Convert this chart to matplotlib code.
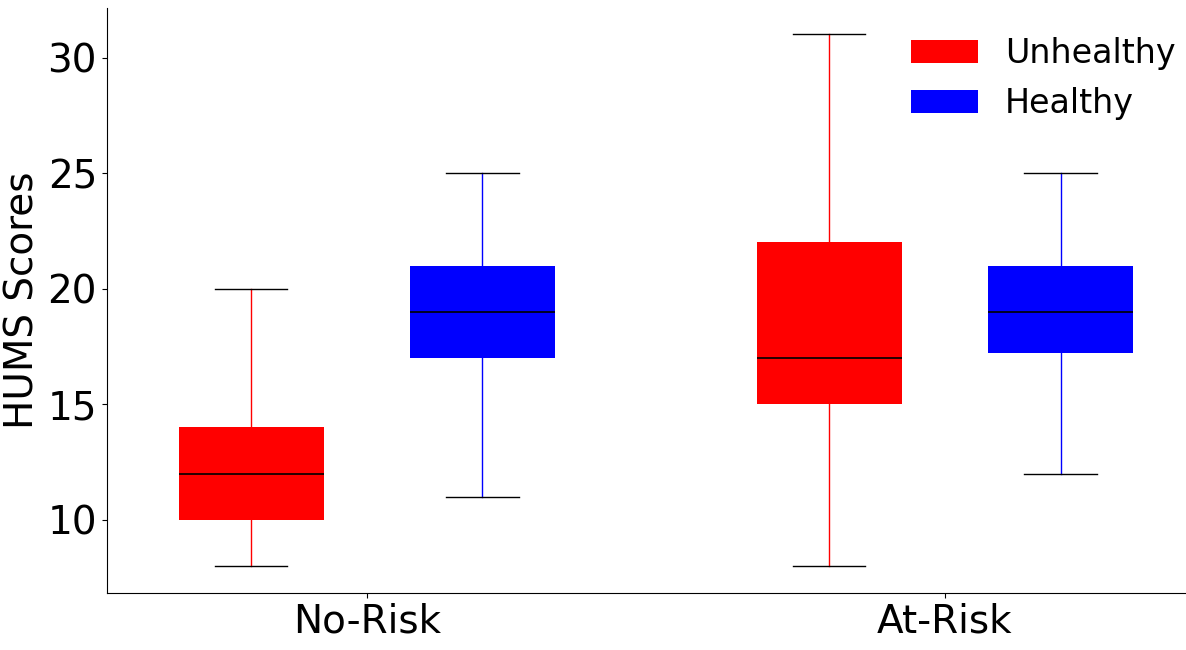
import matplotlib
matplotlib.use("Agg")
import matplotlib.pyplot as plt
from matplotlib.patches import Patch

groups = ["No-Risk", "At-Risk"]
series = ["Unhealthy", "Healthy"]
colors = ["red", "blue"]

# box stats per group: [Unhealthy, Healthy] -> (whislo, q1, med, q3, whishi)
whislo = [[8, 11], [8, 12]]
q1 = [[10, 17], [15, 17.2]]
med = [[12, 19], [17, 19]]
q3 = [[14, 21], [22, 21]]
whishi = [[20, 25], [31, 25]]

fig, ax = plt.subplots(figsize=(11.86, 6.5), dpi=100)
fig.subplots_adjust(left=0.09, right=1.0, top=0.988, bottom=0.088)

offset = 0.2
for s, (name, col) in enumerate(zip(series, colors)):
    stats = []
    for g in range(len(groups)):
        stats.append({"whislo": whislo[g][s], "q1": q1[g][s], "med": med[g][s],
                      "q3": q3[g][s], "whishi": whishi[g][s], "fliers": []})
    pos = [g + 1 + (offset if s else -offset) for g in range(len(groups))]
    ax.bxp(stats, positions=pos, widths=0.25, patch_artist=True, showfliers=False,
           boxprops=dict(facecolor=col, edgecolor=col, linewidth=0),
           whiskerprops=dict(color=col, linewidth=1),
           capprops=dict(color="black", linewidth=1),
           medianprops=dict(color="black", linewidth=1.2))

ax.set_xticks([1, 2])
ax.set_xticklabels(groups)
ax.set_xlim(0.55, 2.417)
ax.set_ylim(6.85, 32.15)
ax.set_yticks([10, 15, 20, 25, 30])
ax.tick_params(labelsize=28)
ax.set_ylabel("HUMS Scores", fontsize=28)
ax.spines["top"].set_visible(False)
ax.spines["right"].set_visible(False)

handles = [Patch(facecolor=c, label=n) for n, c in zip(series, colors)]
ax.legend(handles=handles, loc="upper right", bbox_to_anchor=(1.018, 1.001),
          frameon=False, fontsize=24)

fig.savefig("out.png", dpi=100)
